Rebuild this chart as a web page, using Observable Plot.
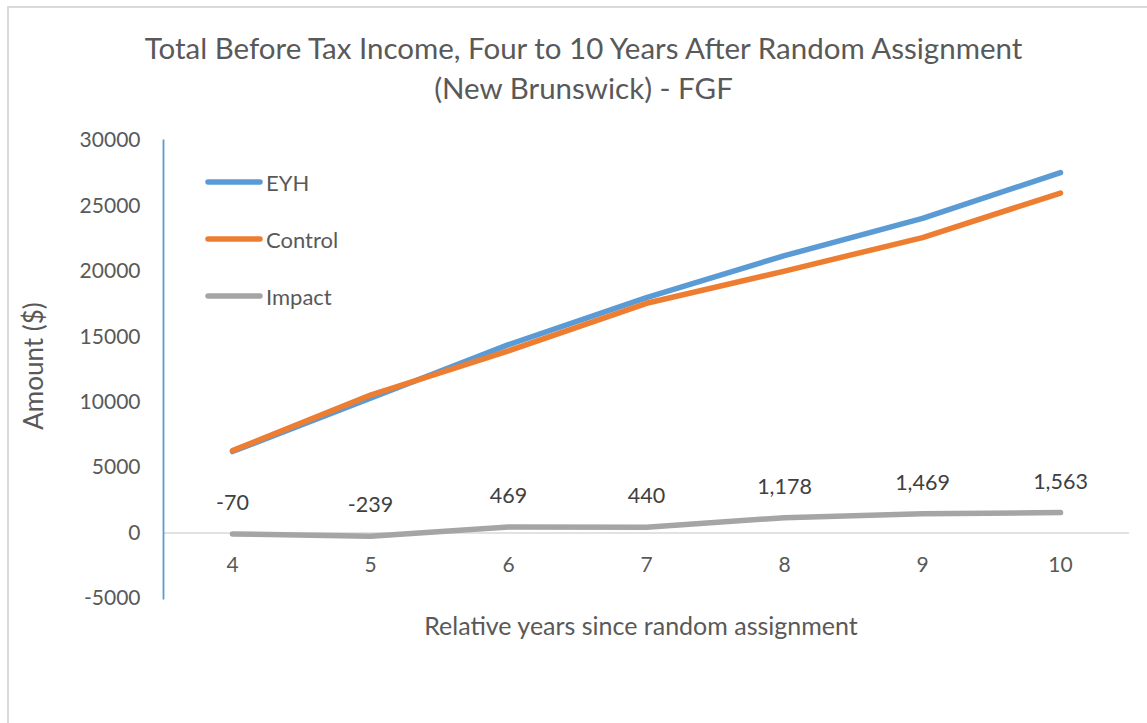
<!DOCTYPE html>
<html>
<head>
<meta charset="utf-8">
<script src="https://cdn.jsdelivr.net/npm/d3@7"></script>
<script src="https://cdn.jsdelivr.net/npm/@observablehq/plot@0.6"></script>
<style>
  html, body { margin: 0; padding: 0; background: #fff; overflow: hidden; }
  #wrap { position: relative; width: 1147px; height: 723px; font-family: Lato, "Open Sans", sans-serif; color: #595959; }
  #border { position: absolute; left: 7px; top: 6px; width: 1300px; height: 900px; border: 2px solid #d9d9d9; box-sizing: border-box; }
  #title { position: absolute; left: 0; top: 28px; width: 1167px; text-align: center; font-size: 29.5px; line-height: 40px; color: #595959; }
  #chart { position: absolute; left: 0; top: 110px; }
  #ytitle { position: absolute; left: 33px; top: 366px; transform: translate(-50%, -50%) rotate(-90deg); font-size: 26px; white-space: nowrap; }
  #xtitle { position: absolute; left: 641px; top: 625px; transform: translate(-50%, -50%); font-size: 25px; white-space: nowrap; }
  #legend { position: absolute; left: 205px; top: 166px; font-size: 22px; }
  .li { display: flex; align-items: center; height: 32px; margin-bottom: 25px; }
  .li svg { margin-right: 3px; }
</style>
</head>
<body>
<div id="wrap">
  <div id="border"></div>
  <div id="title">Total Before Tax Income, Four to 10 Years After Random Assignment<br>(New Brunswick) - FGF</div>
  <div id="chart"></div>
  <div id="legend"></div>
  <div id="ytitle">Amount ($)</div>
  <div id="xtitle">Relative years since random assignment</div>
</div>
<script>
const years = [4, 5, 6, 7, 8, 9, 10];
const eyh = [6230, 10300, 14400, 18000, 21200, 24050, 27550];
const control = [6300, 10539, 13931, 17560, 20022, 22581, 25987];
const impact = [-70, -239, 469, 440, 1178, 1469, 1563];
const impactLabels = ["-70", "-239", "469", "440", "1,178", "1,469", "1,563"];
const yTicks = [-5000, 0, 5000, 10000, 15000, 20000, 25000, 30000];
const seriesNames = ["EYH", "Control", "Impact"];
const seriesColors = ["#5B9BD5", "#ED7D31", "#A5A5A5"];

const seriesValues = [eyh, control, impact];
const rows = seriesNames.map((name, s) => years.map((year, i) => ({series: name, year, value: seriesValues[s][i]})));
const impactRows = years.map((year, i) => ({year, value: impact[i], label: impactLabels[i]}));

const lineOpts = (color) => ({x: "year", y: "value", stroke: color, strokeWidth: 5.5, strokeLinecap: "round", strokeLinejoin: "round"});

const chart = Plot.plot({
  width: 1147,
  height: 613,
  marginLeft: 163,
  marginRight: 18,
  marginTop: 30,
  marginBottom: 125,
  style: {fontFamily: "Lato, 'Open Sans', sans-serif", background: "transparent", overflow: "visible"},
  x: {type: "point", domain: years, padding: 0.5, axis: null},
  y: {domain: [-5000, 30000], axis: null},
  marks: [
    Plot.ruleY([0], {stroke: "#d9d9d9", strokeWidth: 1.5}),
    Plot.frame({anchor: "left", stroke: "#5B9BD5", strokeWidth: 1.8}),
    Plot.axisY({ticks: yTicks, tickSize: 0, tickPadding: 23, tickFormat: d => String(d), fontSize: 21, fill: "#595959", label: null}),
    Plot.line(rows[0], lineOpts(seriesColors[0])),
    Plot.line(rows[1], lineOpts(seriesColors[1])),
    Plot.line(rows[2], lineOpts(seriesColors[2])),
    Plot.text(impactRows, {x: "year", y: "value", text: "label", dy: -31, fontSize: 21.5, fill: "#404040"}),
    Plot.text(years, {x: d => d, y: () => 0, text: d => String(d), dy: 32, fontSize: 21, fill: "#595959"})
  ]
});
document.getElementById("chart").appendChild(chart);

const legend = document.getElementById("legend");
seriesNames.forEach((name, i) => {
  const item = document.createElement("div");
  item.className = "li";
  item.innerHTML = `<svg width="58" height="10"><line x1="3" y1="5" x2="55" y2="5" stroke="${seriesColors[i]}" stroke-width="5.5" stroke-linecap="round"/></svg><span>${name}</span>`;
  legend.appendChild(item);
});
</script>
</body>
</html>
